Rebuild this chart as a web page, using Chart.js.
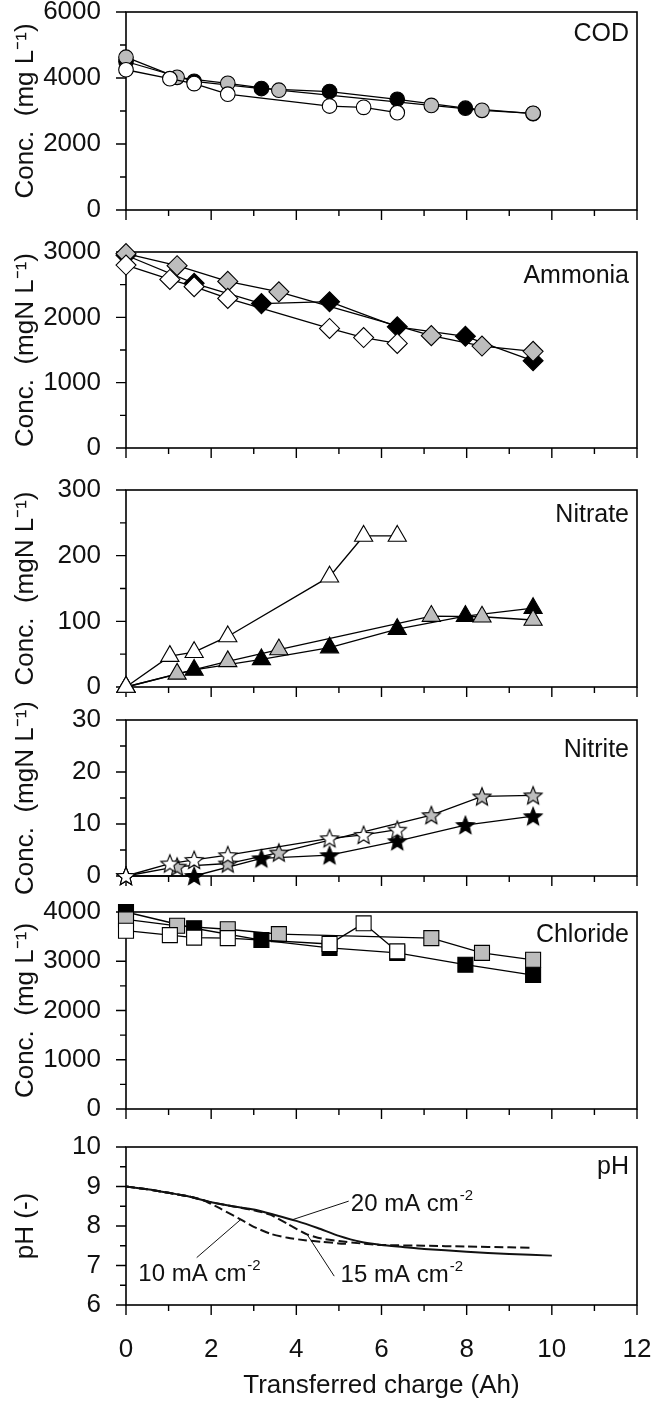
<!DOCTYPE html>
<html>
<head>
<meta charset="utf-8">
<script src="https://cdn.jsdelivr.net/npm/chart.js@4.4.1/dist/chart.umd.min.js"></script>
<style>
html, body { margin: 0; padding: 0; background: #fff; }
#wrap { position: relative; width: 655px; height: 1401px; background: #fff; overflow: hidden; }
#wrap canvas { position: absolute; left: 0; }
</style>
</head>
<body>
<div id="wrap"></div>
<script>
// ---------------- DATA ----------------
// sampling positions (transferred charge, Ah) of the three runs
const xBlack = [0, 1.6, 3.18, 4.78, 6.37, 7.97, 9.56];
const xGray  = [0, 1.2, 2.39, 3.59, 7.17, 8.36, 9.56];
const xWhite = [0, 1.03, 1.6, 2.39, 4.78, 5.58, 6.37];

const codBlack = [4500, 3900, 3680, 3590, 3355, 3085, 2920];
const codGray  = [4630, 4020, 3840, 3630, 3170, 3020, 2930];
const codWhite = [4250, 3980, 3830, 3510, 3150, 3110, 2950];

const ammBlack = [2950, 2520, 2210, 2240, 1855, 1710, 1335];
const ammGray  = [2975, 2790, 2550, 2390, 1720, 1560, 1480];
const ammWhite = [2800, 2580, 2470, 2290, 1830, 1690, 1600];

const no3Black = [0, 26, 42, 60, 88, 108, 120];
const no3Gray  = [0, 20, 39, 57, 108, 107, 102];
const no3White = [0, 47, 53, 77, 168, 230, 230];

const no2Black = [0, 0, 3.4, 4.0, 6.7, 9.8, 11.5];
const no2Gray  = [0, 1.8, 2.4, 4.5, 11.7, 15.3, 15.5];
const no2White = [0, 2.4, 3.1, 4.0, 7.25, 7.9, 8.9];

const clBlack = [4000, 3670, 3430, 3270, 3170, 2930, 2720];
const clGray  = [3850, 3720, 3650, 3550, 3470, 3170, 3030];
const clWhite = [3620, 3530, 3480, 3470, 3350, 3770, 3200];

// pH curves
const phX10 = [0, 0.5, 1, 1.5, 1.8, 2.2, 2.7, 3.0, 3.4, 3.8, 4.2, 4.6, 5.0, 5.2];
const ph10  = [9.0, 8.93, 8.84, 8.74, 8.66, 8.45, 8.16, 7.98, 7.80, 7.70, 7.64, 7.60, 7.56, 7.55];
const phX15 = [0, 0.5, 1, 1.5, 2, 2.5, 3, 3.4, 3.8, 4.25, 4.6, 5.0, 5.5, 6, 7, 8, 9, 9.5];
const ph15  = [9.0, 8.93, 8.84, 8.74, 8.6, 8.5, 8.4, 8.28, 8.05, 7.79, 7.68, 7.62, 7.56, 7.52, 7.50, 7.48, 7.46, 7.45];
const phX20 = [0, 0.5, 1, 1.5, 2, 2.5, 3, 3.5, 4, 4.5, 5, 5.5, 6, 6.5, 7, 8, 9, 10];
const ph20  = [9.0, 8.93, 8.84, 8.74, 8.6, 8.5, 8.42, 8.28, 8.13, 7.95, 7.75, 7.6, 7.52, 7.47, 7.42, 7.35, 7.29, 7.25];

// tick values / labels
const xTickMajor = [0, 2, 4, 6, 8, 10, 12];
const xTickMinor = [1, 3, 5, 7, 9, 11];
const codTicks = [0, 2000, 4000, 6000];
const ammTicks = [0, 1000, 2000, 3000];
const no3Ticks = [0, 100, 200, 300];
const no2Ticks = [0, 10, 20, 30];
const clTicks  = [0, 1000, 2000, 3000, 4000];
const phTicks  = [6, 7, 8, 9, 10];

// text
const titleCOD = 'Conc.  (mg L\u207B\u00B9)';
const titleN   = 'Conc.  (mgN L\u207B\u00B9)';
const titlePH  = 'pH (-)';
const xTitle   = 'Transferred charge (Ah)';
const phNotes = [
  { text: '20 mA cm', sup: '-2', tx: 5.28, ty: 8.37, line: [[3.91, 8.16], [5.23, 8.63]] },
  { text: '10 mA cm', sup: '-2', tx: 0.29, ty: 6.62, line: [[1.66, 7.20], [2.69, 8.16]] },
  { text: '15 mA cm', sup: '-2', tx: 5.04, ty: 6.58, line: [[4.89, 6.73], [4.25, 7.79]] }
];

// ---------------- STYLE / LAYOUT ----------------
const FONT = '"Liberation Sans", Arial, Helvetica, sans-serif';
Chart.defaults.font.family = FONT;
Chart.defaults.color = '#111';
const FILL = { black: '#000000', gray: '#bdbdbd', white: '#ffffff' };

function makeStar(fill) {
  const c = document.createElement('canvas');
  c.width = 22; c.height = 22;
  const g = c.getContext('2d');
  g.beginPath();
  for (let i = 0; i < 10; i++) {
    const r = i % 2 === 0 ? 9.5 : 4.2;
    const a = -Math.PI / 2 + i * Math.PI / 5;
    const px = 11 + r * Math.cos(a), py = 11.8 + r * Math.sin(a);
    if (i === 0) g.moveTo(px, py); else g.lineTo(px, py);
  }
  g.closePath();
  g.fillStyle = fill; g.fill();
  g.lineWidth = 1.1; g.strokeStyle = '#000'; g.lineJoin = 'miter'; g.stroke();
  return c;
}

function series(xs, ys, fill, style, radius) {
  return {
    data: xs.map((x, i) => ({ x: x, y: ys[i] })),
    showLine: true,
    borderColor: '#000',
    borderWidth: 1.3,
    pointStyle: style,
    pointRadius: radius,
    pointHoverRadius: radius,
    pointBackgroundColor: fill,
    pointBorderColor: '#000',
    pointBorderWidth: 1.1,
    clip: false
  };
}

function curve(xs, ys, dash) {
  return {
    data: xs.map((x, i) => ({ x: x, y: ys[i] })),
    showLine: true,
    borderColor: '#111',
    borderWidth: 2,
    borderDash: dash,
    pointRadius: 0,
    tension: 0.2,
    clip: false
  };
}

const framePlugin = {
  id: 'frame',
  beforeDatasetsDraw(chart, args, opts) {
    const { ctx, chartArea: { left, right, top, bottom }, scales: { x, y } } = chart;
    ctx.save();
    ctx.strokeStyle = '#000';
    ctx.lineWidth = 1.6;
    ctx.strokeRect(left, top, right - left, bottom - top);
    ctx.lineWidth = 1.4;
    ctx.beginPath();
    xTickMajor.forEach(v => { const p = x.getPixelForValue(v); ctx.moveTo(p, bottom); ctx.lineTo(p, bottom + 10); });
    xTickMinor.forEach(v => { const p = x.getPixelForValue(v); ctx.moveTo(p, bottom); ctx.lineTo(p, bottom + 6); });
    const yt = opts.yTicks;
    yt.forEach(v => { const p = y.getPixelForValue(v); ctx.moveTo(left, p); ctx.lineTo(left - 10, p); });
    for (let i = 0; i < yt.length - 1; i++) {
      const p = y.getPixelForValue((yt[i] + yt[i + 1]) / 2);
      ctx.moveTo(left, p); ctx.lineTo(left - 6, p);
    }
    ctx.stroke();
    ctx.restore();
  },
  afterDraw(chart, args, opts) {
    const { ctx, chartArea: { right, top }, scales: { x, y } } = chart;
    ctx.save();
    ctx.fillStyle = '#111';
    ctx.font = '25px ' + FONT;
    ctx.textAlign = 'right';
    ctx.textBaseline = 'middle';
    ctx.fillText(opts.label, right - 8, top + opts.labelDy);
    (opts.notes || []).forEach(n => {
      ctx.strokeStyle = '#111';
      ctx.lineWidth = 1;
      ctx.beginPath();
      ctx.moveTo(x.getPixelForValue(n.line[0][0]), y.getPixelForValue(n.line[0][1]));
      ctx.lineTo(x.getPixelForValue(n.line[1][0]), y.getPixelForValue(n.line[1][1]));
      ctx.stroke();
      const tx = x.getPixelForValue(n.tx), ty = y.getPixelForValue(n.ty);
      ctx.textAlign = 'left';
      ctx.textBaseline = 'alphabetic';
      ctx.font = '24px ' + FONT;
      ctx.fillText(n.text, tx, ty);
      const w = ctx.measureText(n.text).width;
      ctx.font = '15px ' + FONT;
      ctx.fillText(n.sup, tx + w + 1, ty - 11);
    });
    ctx.restore();
  }
};

const panels = [
  { top: 0,    height: 231, padTop: 12, xH: 21, min: 0, max: 6000, ticks: codTicks, title: titleCOD, label: 'COD',      labelDy: 22,
    datasets: [series(xWhite, codWhite, FILL.white, 'circle', 7.3), series(xGray, codGray, FILL.gray, 'circle', 7.3), series(xBlack, codBlack, FILL.black, 'circle', 7.3)] },
  { top: 231,  height: 238, padTop: 21, xH: 21, min: 0, max: 3000, ticks: ammTicks, title: titleN, label: 'Ammonia',    labelDy: 24,
    datasets: [series(xWhite, ammWhite, FILL.white, 'rectRot', 10), series(xGray, ammGray, FILL.gray, 'rectRot', 10), series(xBlack, ammBlack, FILL.black, 'rectRot', 10)] },
  { top: 469,  height: 234, padTop: 21, xH: 16, min: 0, max: 300, ticks: no3Ticks, title: titleN, label: 'Nitrate',     labelDy: 25,
    datasets: [series(xWhite, no3White, FILL.white, 'triangle', 10.5), series(xGray, no3Gray, FILL.gray, 'triangle', 10.5), series(xBlack, no3Black, FILL.black, 'triangle', 10.5)] },
  { top: 703,  height: 191, padTop: 17, xH: 18, min: 0, max: 30, ticks: no2Ticks, title: titleN, label: 'Nitrite',       labelDy: 30,
    datasets: [series(xWhite, no2White, FILL.white, makeStar(FILL.white), 9), series(xGray, no2Gray, FILL.gray, makeStar(FILL.gray), 9), series(xBlack, no2Black, FILL.black, makeStar(FILL.black), 9)] },
  { top: 894,  height: 234, padTop: 18, xH: 19, min: 0, max: 4000, ticks: clTicks, title: titleCOD, label: 'Chloride',  labelDy: 23,
    datasets: [series(xWhite, clWhite, FILL.white, 'rect', 10.6), series(xGray, clGray, FILL.gray, 'rect', 10.6), series(xBlack, clBlack, FILL.black, 'rect', 10.6)] },
  { top: 1128, height: 273, padTop: 19, xH: 96, min: 6, max: 10, ticks: phTicks, title: titlePH, label: 'pH',           labelDy: 20, bottomAxis: true, notes: phNotes,
    datasets: [curve(phX20, ph20, []), curve(phX15, ph15, [9, 4]), curve(phX10, ph10, [9, 4])] }
];

const wrap = document.getElementById('wrap');
panels.forEach(p => {
  const cv = document.createElement('canvas');
  cv.width = 655; cv.height = p.height;
  cv.style.top = p.top + 'px';
  cv.style.width = '655px'; cv.style.height = p.height + 'px';
  wrap.appendChild(cv);
  new Chart(cv, {
    type: 'scatter',
    data: { datasets: p.datasets },
    options: {
      responsive: false,
      animation: false,
      events: [],
      layout: { padding: { left: 0, right: 18, top: p.padTop, bottom: 0 } },
      plugins: {
        legend: { display: false },
        tooltip: { enabled: false },
        frame: { yTicks: p.ticks, label: p.label, labelDy: p.labelDy, notes: p.notes }
      },
      scales: {
        x: {
          type: 'linear', min: 0, max: 12,
          grid: { display: false, drawTicks: false },
          border: { display: false },
          afterBuildTicks: s => { s.ticks = xTickMajor.map(v => ({ value: v })); },
          afterFit: s => { s.height = p.xH; s.paddingLeft = 0; s.paddingRight = 0; },
          ticks: { display: !!p.bottomAxis, autoSkip: false, maxRotation: 0, padding: 29,
                   font: { size: 26 }, color: '#111', callback: v => String(v) },
          title: { display: !!p.bottomAxis, text: xTitle, font: { size: 26 }, color: '#111', padding: { top: 0, bottom: 0 } }
        },
        y: {
          type: 'linear', min: p.min, max: p.max,
          grid: { display: false, drawTicks: false },
          border: { display: false },
          afterBuildTicks: s => { s.ticks = p.ticks.map(v => ({ value: v })); },
          afterFit: s => { s.width = 126; s.paddingTop = 0; s.paddingBottom = 0; },
          ticks: { autoSkip: false, padding: 25, font: { size: 26 }, color: '#111', callback: v => String(v) },
          title: { display: true, text: p.title, font: { size: 26 }, color: '#111', padding: { top: 10, bottom: 0 } }
        }
      }
    },
    plugins: [framePlugin]
  });
});
</script>
</body>
</html>
